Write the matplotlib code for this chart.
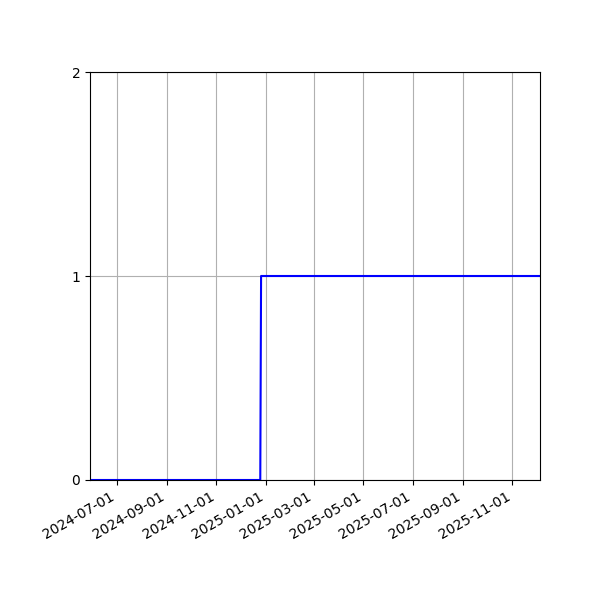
import matplotlib
matplotlib.use("Agg")
import matplotlib.pyplot as plt
import matplotlib.dates as mdates
import pandas as pd

# Datos del escalón
fechas = pd.to_datetime(["2024-05-29", "2024-12-25", "2024-12-26", "2025-12-05"])
valores = [0, 0, 1, 1]

fig, ax = plt.subplots(figsize=(6, 6), dpi=100)
fig.subplots_adjust(left=0.15, right=0.9, top=0.88, bottom=0.2)

ax.plot(fechas, valores, color="blue")

ax.set_xlim(fechas[0], fechas[-1])
ax.set_ylim(0, 2)
ax.set_yticks([0, 1, 2])

ax.xaxis.set_major_locator(mdates.MonthLocator(bymonth=[1, 3, 5, 7, 9, 11]))
ax.xaxis.set_major_formatter(mdates.DateFormatter("%Y-%m-%d"))
plt.setp(ax.get_xticklabels(), rotation=30, ha="right")

ax.grid(True)

plt.savefig("out.png")
